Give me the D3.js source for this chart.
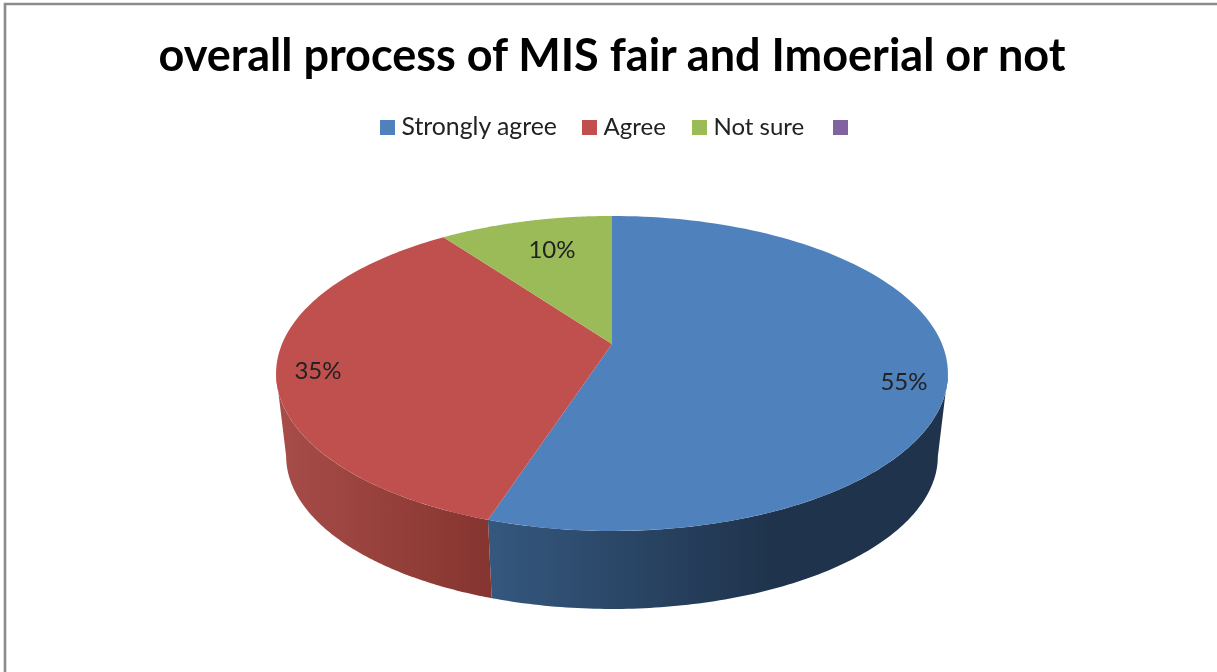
<!DOCTYPE html>
<html>
<head>
<meta charset="utf-8">
<script src="https://cdn.jsdelivr.net/npm/d3@7"></script>
<style>html,body{margin:0;padding:0;background:#fff;overflow:hidden}svg{display:block;filter:blur(0.45px)}text{font-family:Lato,"Open Sans",sans-serif}</style>
</head>
<body>
<svg id="c" width="1217" height="672"></svg>
<script>
const categories = ["Strongly agree", "Agree", "Not sure", ""];
const values = [55, 35, 10, 0];
const labels = ["55%", "35%", "10%"];
const colors = ["#4f81bd", "#c0504d", "#9bbb59", "#8064a2"];
const wallColors = [["#35587f", "#1f334c"], ["#a84d49", "#85342f"]];
const titleText = "overall process of MIS fair and Imoerial or not";

const svg = d3.select("#c");
const W = 1217, H = 672;

// frame
svg.append("path").attr("d", `M5 ${H}V4H${W}`).attr("fill", "none").attr("stroke", "#8c8c8c").attr("stroke-width", 2.6);

// title
svg.append("text").attr("x", 612).attr("y", 71).attr("text-anchor", "middle")
  .attr("font-size", 45).attr("font-weight", 700).attr("fill", "#000").text(titleText);

// legend
const legendX = [380, 582, 692, 833];
const legendG = svg.append("g").selectAll("g").data(categories).join("g")
  .attr("transform", (d, i) => `translate(${legendX[i]},120)`);
legendG.append("rect").attr("width", 15).attr("height", 15).attr("fill", (d, i) => colors[i]);
legendG.append("text").attr("x", 21.5).attr("y", 15).attr("font-size", (d, i) => i === 0 ? 24.8 : 24).attr("fill", "#222").text(d => d);

// perspective pie
const pie = d3.pie().sort(null).value(d => d);
const arcs = pie(values);
const cx = 612, cy = 344, a = 330, b = 152, k = 0.187, drop = 83.6, s = 0.97;
function project(t, lower) {
  const u = Math.sin(t), v = -Math.cos(t), w = 1 - k * v;
  const sc = lower ? s : 1;
  return [cx + sc * a * u / w, cy + (lower ? drop : 0) + sc * b * v / w];
}
const line = d3.line();
const samples = (t0, t1, lower) => d3.range(0, 121).map(i => project(t0 + (t1 - t0) * i / 120, lower));
const tangent = Math.acos(-k);
const defs = svg.append("defs");

// walls
[[tangent, arcs[0].endAngle], [arcs[1].startAngle, Math.PI * 2 - tangent]].forEach((r, i) => {
  const pts = samples(r[0], r[1], false).concat(samples(r[0], r[1], true).reverse());
  const xs = d3.extent(pts, p => p[0]);
  const id = "w" + i;
  const g = defs.append("linearGradient").attr("id", id).attr("gradientUnits", "userSpaceOnUse")
    .attr("x1", xs[0]).attr("x2", xs[1]).attr("y1", 0).attr("y2", 0);
  g.append("stop").attr("offset", 0).attr("stop-color", wallColors[i][0]);
  g.append("stop").attr("offset", i === 0 ? 0.62 : 1).attr("stop-color", wallColors[i][1]);
  svg.append("path").attr("d", line(pts) + "Z").attr("fill", `url(#${id})`);
});

// top slices
svg.append("g").selectAll("path").data(arcs.filter(d => d.value > 0)).join("path")
  .attr("d", d => line([[cx, cy]].concat(samples(d.startAngle, d.endAngle, false))) + "Z")
  .attr("fill", d => colors[d.index]);

// data labels
const labelPos = [[904, 382], [318, 371], [552, 250]];
svg.append("g").selectAll("text").data(labels).join("text")
  .attr("x", (d, i) => labelPos[i][0]).attr("y", (d, i) => labelPos[i][1])
  .attr("dy", "0.35em").attr("text-anchor", "middle").attr("font-size", 24).attr("fill", "#222").text(d => d);
</script>
</body>
</html>
